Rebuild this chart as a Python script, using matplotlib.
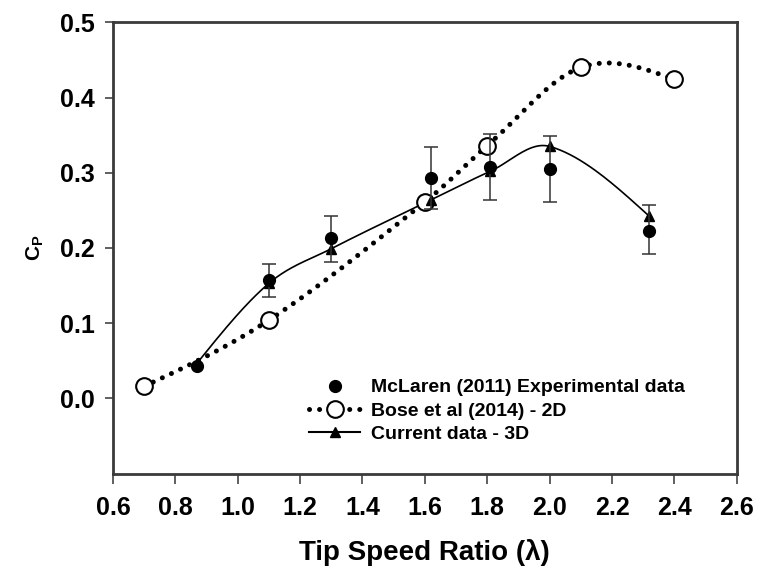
import numpy as np
import matplotlib
matplotlib.use("Agg")
import matplotlib.pyplot as plt
from matplotlib import font_manager

# McLaren (2011) experimental data, with error bars
mc_tsr = [0.87, 1.10, 1.30, 1.62, 1.81, 2.00, 2.32]
mc_cp = [0.043, 0.157, 0.213, 0.293, 0.308, 0.305, 0.223]
mc_lo = [0.000, 0.022, 0.031, 0.041, 0.044, 0.044, 0.031]
mc_hi = [0.000, 0.022, 0.030, 0.041, 0.044, 0.044, 0.034]

# Bose et al (2014) - 2D
bose_tsr = [0.70, 1.10, 1.60, 1.80, 2.10, 2.40]
bose_cp = [0.016, 0.104, 0.261, 0.336, 0.440, 0.424]

# Current data - 3D
cur_tsr = [0.87, 1.10, 1.30, 1.62, 1.81, 2.00, 2.32]
cur_cp = [0.047, 0.153, 0.199, 0.264, 0.302, 0.335, 0.242]

x_ticks = [0.6, 0.8, 1.0, 1.2, 1.4, 1.6, 1.8, 2.0, 2.2, 2.4, 2.6]
y_ticks = [0.0, 0.1, 0.2, 0.3, 0.4, 0.5]

names = {f.name for f in font_manager.fontManager.ttflist}
FONT = "Liberation Sans Narrow" if "Liberation Sans Narrow" in names else "Liberation Sans"
plt.rcParams["font.family"] = [FONT, "DejaVu Sans"]
plt.rcParams["font.weight"] = "bold"


def smooth(x, y, n=40):
    # Catmull-Rom style Hermite spline through the points, only for drawing
    x = np.asarray(x, float)
    y = np.asarray(y, float)
    k = len(x)
    d = np.diff(y) / np.diff(x)
    m = np.empty(k)
    m[1:-1] = (y[2:] - y[:-2]) / (x[2:] - x[:-2])
    m[0] = (3 * d[0] - m[1]) / 2
    m[-1] = (3 * d[-1] - m[-2]) / 2
    xs_all, ys_all = [], []
    for i in range(k - 1):
        h = x[i + 1] - x[i]
        t = np.linspace(0, 1, n)
        h00 = 2 * t**3 - 3 * t**2 + 1
        h10 = t**3 - 2 * t**2 + t
        h01 = -2 * t**3 + 3 * t**2
        h11 = t**3 - t**2
        xs_all.append(x[i] + t * h)
        ys_all.append(h00 * y[i] + h10 * h * m[i] + h01 * y[i + 1] + h11 * h * m[i + 1])
    return np.concatenate(xs_all), np.concatenate(ys_all)


fig = plt.figure(figsize=(7.58, 5.72), dpi=100)
ax = fig.add_axes([0.149, 0.172, 0.823, 0.789])

# Bose: dotted smooth curve + open circles
bx, by = smooth(bose_tsr, bose_cp)
ax.plot(bx, by, color="black", lw=3.6, dashes=(0.01, 2.0),
        dash_capstyle="round", zorder=2)
ax.plot(bose_tsr, bose_cp, "o", ms=12, mfc="white", mec="black",
        mew=1.5, zorder=4)

# Current 3D: solid smooth curve + triangles
cx, cy = smooth(cur_tsr, cur_cp)
ax.plot(cx, cy, color="black", lw=1.2, zorder=3)
ax.plot(cur_tsr, cur_cp, "^", ms=7.5, color="black", zorder=5)

# McLaren: filled circles with error bars
ax.errorbar(mc_tsr, mc_cp, yerr=[mc_lo, mc_hi], fmt="o", ms=8.5,
            color="black", ecolor="#333333", elinewidth=1.1, capsize=5,
            capthick=1.1, zorder=6)

ax.set_xlim(0.6, 2.6)
ax.set_ylim(-0.1, 0.5)
ax.set_xticks(x_ticks)
ax.set_yticks(y_ticks)
ax.set_xticklabels([f"{v:.1f}" for v in x_ticks])
ax.set_yticklabels([f"{v:.1f}" for v in y_ticks])
ax.tick_params(axis="x", direction="out", length=7, width=1.2,
               color="#444444", labelsize=18, pad=9)
ax.tick_params(axis="y", direction="out", length=6, width=1.2,
               color="#444444", labelsize=18, pad=7)
for s in ax.spines.values():
    s.set_linewidth(2)
    s.set_color("#3a3a3a")

ax.set_xlabel("Tip Speed Ratio (λ)", fontsize=20, fontweight="bold",
              labelpad=14)
ax.set_ylabel(r"C$_\mathregular{P}$", fontsize=15, fontweight="bold",
              labelpad=10)

# legend built from proxy handles
h1 = ax.plot([], [], "o", ms=8.5, color="black")[0]
h2 = ax.plot([], [], color="black", lw=3.6, dashes=(0.01, 2.0),
             dash_capstyle="round", marker="o", ms=12, mfc="white",
             mec="black", mew=1.5)[0]
h3 = ax.plot([], [], color="black", lw=1.5, marker="^", ms=7.5)[0]
ax.legend([h1, h2, h3],
          ["McLaren (2011) Experimental data", "Bose et al (2014) - 2D",
           "Current data - 3D"],
          loc="lower right", bbox_to_anchor=(0.93, 0.05), frameon=False,
          prop={"size": 14, "weight": "bold"}, handlelength=2.6,
          handletextpad=0.6, labelspacing=0.3, borderaxespad=0)

fig.savefig("out.png", dpi=100)
